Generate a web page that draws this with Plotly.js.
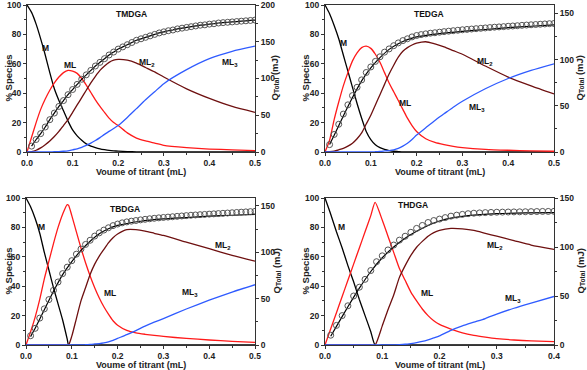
<!DOCTYPE html>
<html>
<head>
<meta charset="utf-8">
<script src="https://cdn.plot.ly/plotly-3.0.1.min.js"></script>
<style>
  html, body { margin: 0; padding: 0; background: #ffffff; }
  #grafico { width: 587px; height: 370px; }
</style>
</head>
<body>
<div id="grafico"></div>
<script>
// Especiação e calor total (Q) para quatro ligantes DGA

// ---- TMDGA ----
const tmdgaVol = [0,0.01,0.02,0.03,0.04,0.05,0.06,0.07,0.08,0.09,0.1,0.11,0.12,0.13,0.14,0.15,0.16,0.17,0.18,0.19,0.2,0.22,0.24,0.26,0.28,0.3,0.35,0.4,0.45,0.5];
const tmdgaM   = [100,95,87,77,66,54,43,35,28,21,15,11,8,5.5,4,3,2.2,1.6,1.1,0.8,0.6,0.3,0.1,0,0,0,0,0,0,0];
const tmdgaML  = [0,10,20,29,36,42,47,51,54,55.5,55,53.5,50,45.5,40.5,35.5,31,27,23,20,18,13,9.5,7.5,6,4.5,3,2,1.5,1];
const tmdgaML2 = [0,0.3,1.2,2.8,5,7.5,10.5,14,18,22,27,32,37,42,47,51.5,55.5,58.5,61,62.5,63,62.5,60.5,57.5,54.5,51,43,36.5,31,27];
const tmdgaML3 = [0,0,0,0,0,0.1,0.2,0.3,0.5,0.8,1.5,2.2,3.2,4.5,6,7.8,9.8,12,14,16,18,23.5,29.5,35.5,41,46.5,56,63.5,68.5,72];

// ---- TEDGA ----
const tedgaVol = [0,0.01,0.02,0.03,0.04,0.05,0.06,0.07,0.08,0.09,0.1,0.11,0.12,0.13,0.14,0.15,0.16,0.17,0.18,0.19,0.2,0.22,0.24,0.26,0.28,0.3,0.35,0.4,0.45,0.5];
const tedgaM   = [100,94,86,77,66,55,44,33,23,14,8.5,5,3,1.8,1,0.5,0.3,0.1,0,0,0,0,0,0,0,0,0,0,0,0];
const tedgaML  = [0,8,22,34,45,54,62,67.5,71,72,70.5,66.5,61,54,47,41,35,29,23,18,14,9,6.5,5,3.8,3,1.8,1.2,0.8,0.5];
const tedgaML2 = [0,0.2,0.6,1.5,2.5,4,6,9,13,19,25,32,39,46,53,59,64.5,68.5,71,72.8,74,75,73.5,71.5,69,66.5,58.5,51,45,39.5];
const tedgaML3 = [0,0,0,0,0,0,0,0,0,0,0,0.2,0.4,0.7,1,1.5,2.5,4,6,8.5,11.5,16.5,21.5,26,30.5,34.5,43,50,55.5,60];

// ---- TBDGA ----
const tbdgaVol = [0,0.01,0.02,0.03,0.04,0.05,0.06,0.07,0.08,0.09,0.093,0.1,0.11,0.12,0.13,0.14,0.15,0.16,0.17,0.18,0.19,0.2,0.22,0.24,0.26,0.28,0.3,0.35,0.4,0.45,0.5];
const tbdgaM   = [100,94,86,76,63,51,39,28,17,4,0,0,0,0,0,0,0,0,0,0,0,0,0,0,0,0,0,0,0,0,0];
const tbdgaML  = [0,9,19,31,45,57,69,80,89,95.5,95,88,77,66,56,47,39,32,26,21,16.5,13.5,10,8.3,7.3,6.5,5.8,4.5,3.4,2.5,1.8];
const tbdgaML2 = [0,0,0,0,0,0,0,0,0,0,0,6,18,30,39,48,55,60.5,65,69.5,73,75.5,78.5,78.5,77.5,76,74.5,70,65.5,61,57];
const tbdgaML3 = [0,0,0,0,0,0,0,0,0,0,0,0,0,0,0.2,0.4,0.7,1,1.5,2.2,3.2,4.5,7,9.8,12.8,15.5,18,24.5,30.5,36,41];

// ---- THDGA ----
const thdgaVol = [0,0.01,0.02,0.03,0.04,0.05,0.06,0.07,0.08,0.0875,0.1,0.11,0.12,0.13,0.14,0.15,0.16,0.17,0.18,0.19,0.2,0.22,0.24,0.26,0.28,0.3,0.33,0.36,0.4];
const thdgaM   = [100,89,77,66,54,43,31,20,9,0,0,0,0,0,0,0,0,0,0,0,0,0,0,0,0,0,0,0,0];
const thdgaML  = [0,11,22,33,44,55,66,77,88,97,85,74,63,52,44,36,30,24.5,20,16.5,14,10.8,8.3,6.6,5.4,4.4,3.4,2.8,2.3];
const thdgaML2 = [0,0,0,0,0,0,0,0,0,0,13,24,34,46,54,61,66.5,70.5,74,76.5,78,79.3,79,78,76,74,71,68,65];
const thdgaML3 = [0,0,0,0,0,0,0,0,0,0,0,0,0,0.2,0.5,1,1.6,2.4,3.5,4.8,6.2,10,13,15.5,18,21,25,28.5,33];

// ---- Q total (círculos) ----
const qVol50 = [0.01,0.02,0.03,0.04,0.05,0.06,0.07,0.08,0.09,0.1,0.11,0.12,0.13,0.14,0.15,0.16,0.17,0.18,0.19,0.2,0.21,0.22,0.23,0.24,0.25,0.26,0.27,0.28,0.29,0.3,0.31,0.32,0.33,0.34,0.35,0.36,0.37,0.38,0.39,0.4,0.41,0.42,0.43,0.44,0.45,0.46,0.47,0.48,0.49,0.5];
const qVol40 = [0.01,0.02,0.03,0.04,0.05,0.06,0.07,0.08,0.09,0.1,0.11,0.12,0.13,0.14,0.15,0.16,0.17,0.18,0.19,0.2,0.21,0.22,0.23,0.24,0.25,0.26,0.27,0.28,0.29,0.3,0.31,0.32,0.33,0.34,0.35,0.36,0.37,0.38,0.39,0.4];
const tmdgaQ = [8,17,25,34,44,53,62,70,78,85,92,99,105,111,117,122,127,132,136,140,143,146,149,152,154,156,158,160,162,163.5,165,166,167.5,168.5,169.5,170.5,171.5,172.5,173,174,174.5,175.5,176,176.5,177,177.5,178,178.5,179,179.5];
const tedgaQ = [8,19,30,41,51,61,70,78,86,92,98,103,108,111.5,115,118,120.5,122.5,124.5,126,127,127.8,128.5,129,129.6,130.2,130.7,131.2,131.7,132.2,132.6,133,133.4,133.8,134.2,134.6,135,135.3,135.6,136,136.3,136.6,137,137.3,137.6,137.9,138.2,138.5,138.8,139];
const tbdgaQ = [10,18,29,39,49,59,68,77,84,91,98,103.5,108.5,113,117.5,121,124,126.5,128.8,130.5,131.8,132.8,133.6,134.3,135,135.6,136.2,136.7,137.2,137.6,138,138.4,138.8,139.2,139.6,140,140.3,140.6,140.9,141.2,141.5,141.8,142.1,142.4,142.7,143,143.3,143.6,143.9,144.2];
const thdgaQ = [10,20,30,40,50,59,67,76,85,91,97,102,107,111,115,119,122,125,127,128.5,130,131.5,132.5,133.3,134,134.5,134.8,135.1,135.3,135.5,135.6,135.7,135.8,135.9,136,136.1,136.2,136.3,136.3,136.4];

// ---- Q total (ajuste, linha preta) ----
const fitVol = [0.01,0.02,0.04,0.06,0.08,0.1,0.12,0.14,0.16,0.18,0.2,0.25,0.3,0.35,0.4,0.45,0.5];
const tedgaFit = [8,18,39,59,77,91,102,111,117,121.5,124.5,128,130.5,132.5,134.5,136,137.5];
const tbdgaFit = [9,18,38,58,76,90,102,112,120,125.5,129,133.5,136,137.5,139,140,141];
const thdgaFitVol = [0.01,0.02,0.04,0.06,0.08,0.1,0.12,0.14,0.16,0.18,0.2,0.22,0.25,0.3,0.35,0.4];
const thdgaFit = [9,19,39,58,75,89,100,109,116,122,126.5,129.5,132,134,134.8,135];

const cores = { M: '#000000', ML: '#ff1a1a', ML2: '#6e1010', ML3: '#2f5bff' };
const fonte = 'Liberation Sans, Arial, sans-serif';
const W = 587, H = 370;

const paineis = [
    { nome: 'TMDGA', vol: tmdgaVol, M: tmdgaM, ML: tmdgaML, ML2: tmdgaML2, ML3: tmdgaML3,
      qVol: qVol50, q: tmdgaQ, fitVol: qVol50, fit: tmdgaQ,
      box: [27, 255, 5, 152], xmax: 0.5, qmax: 200, qdtick: 50,
      rotulos: [['TMDGA', 0.23, 94], ['M', 0.04, 70.5], ['ML', 0.095, 59], ['ML<sub>2</sub>', 0.263, 61], ['ML<sub>3</sub>', 0.445, 61]],
      esq: 8, dir: 275, base: 172 },
    { nome: 'TEDGA', vol: tedgaVol, M: tedgaM, ML: tedgaML, ML2: tedgaML2, ML3: tedgaML3,
      qVol: qVol50, q: tedgaQ, fitVol: fitVol, fit: tedgaFit,
      box: [325, 554, 5, 152], xmax: 0.5, qmax: 159, qdtick: 50,
      rotulos: [['TEDGA', 0.226, 94], ['M', 0.04, 74], ['ML', 0.175, 33.5], ['ML<sub>2</sub>', 0.35, 61.5], ['ML<sub>3</sub>', 0.332, 30.4]],
      esq: 305, dir: 580, base: 172 },
    { nome: 'TBDGA', vol: tbdgaVol, M: tbdgaM, ML: tbdgaML, ML2: tbdgaML2, ML3: tbdgaML3,
      qVol: qVol50, q: tbdgaQ, fitVol: fitVol, fit: tbdgaFit,
      box: [26, 255, 198, 345], xmax: 0.5, qmax: 158.6, qdtick: 50,
      rotulos: [['TBDGA', 0.216, 92.8], ['M', 0.034, 80.3], ['ML', 0.183, 35.5], ['ML<sub>2</sub>', 0.43, 67.4], ['ML<sub>3</sub>', 0.358, 35.7]],
      esq: 8, dir: 276, base: 365 },
    { nome: 'THDGA', vol: thdgaVol, M: thdgaM, ML: thdgaML, ML2: thdgaML2, ML3: thdgaML3,
      qVol: qVol40, q: thdgaQ, fitVol: thdgaFitVol, fit: thdgaFit,
      box: [325, 554, 198, 345], xmax: 0.4, qmax: 150, qdtick: 50,
      rotulos: [['THDGA', 0.154, 95], ['M', 0.029, 80], ['ML', 0.178, 35.2], ['ML<sub>2</sub>', 0.297, 67.7], ['ML<sub>3</sub>', 0.329, 31.8]],
      esq: 305, dir: 580, base: 365 }
];

const data = [];
const layout = {
    width: W,
    height: H,
    margin: { l: 0, r: 0, t: 0, b: 0 },
    paper_bgcolor: '#ffffff',
    plot_bgcolor: 'rgba(0,0,0,0)',
    showlegend: false,
    font: { family: fonte, color: '#222222' },
    annotations: []
};

function eixoBase() {
    return {
        showgrid: false,
        zeroline: false,
        showline: true,
        linecolor: '#333333',
        linewidth: 1,
        ticks: 'outside',
        ticklen: 3,
        tickwidth: 1,
        tickcolor: '#333333',
        tickfont: { family: fonte, size: 8.5, weight: 'bold', color: '#222222' },
        ticklabeloverflow: 'allow',
        fixedrange: true
    };
}

function tituloFonte(tam) {
    return { family: fonte, size: tam || 9.5, weight: 'bold', color: '#222222' };
}

paineis.forEach(function(p, i) {
    const n = i + 1;
    const xs = n === 1 ? '' : String(n);
    const yl = i === 0 ? '' : String(2 * i + 1);
    const yr = String(2 * i + 2);
    const xref = 'x' + xs, ylRef = 'y' + yl, yrRef = 'y' + yr;

    const x0 = p.box[0] / W, x1 = p.box[1] / W;
    const y0 = 1 - p.box[3] / H, y1 = 1 - p.box[2] / H;

    // curvas de espécies
    [['M', cores.M], ['ML', cores.ML], ['ML2', cores.ML2], ['ML3', cores.ML3]].forEach(function(s) {
        data.push({
            x: p.vol, y: p[s[0]], xaxis: xref, yaxis: ylRef,
            type: 'scatter', mode: 'lines', name: s[0] + ' ' + p.nome,
            line: { color: s[1], width: 1.3, shape: 'spline', smoothing: 0.6 }
        });
    });

    // ajuste de Q total
    data.push({
        x: p.fitVol, y: p.fit, xaxis: xref, yaxis: yrRef,
        type: 'scatter', mode: 'lines', name: 'ajuste ' + p.nome,
        line: { color: '#000000', width: 1.2, shape: 'spline', smoothing: 0.6 }
    });

    // pontos experimentais
    data.push({
        x: p.qVol, y: p.q, xaxis: xref, yaxis: yrRef,
        type: 'scatter', mode: 'markers', name: 'Q ' + p.nome,
        marker: { symbol: 'circle-open', size: 6, color: '#555555', line: { width: 1, color: '#555555' } }
    });

    const xa = eixoBase();
    Object.assign(xa, {
        domain: [x0, x1], anchor: ylRef, range: [0, p.xmax], autorange: false,
        dtick: 0.1, tickformat: '.1f', mirror: true,
        minor: { ticks: 'outside', ticklen: 2, dtick: 0.05, tickcolor: '#333333' }
    });
    layout['xaxis' + xs] = xa;

    const ya = eixoBase();
    Object.assign(ya, {
        domain: [y0, y1], anchor: xref, range: [0, 100], autorange: false, dtick: 20,
        minor: { ticks: 'outside', ticklen: 2, dtick: 10, tickcolor: '#333333' }
    });
    layout['yaxis' + yl] = ya;

    const yb = eixoBase();
    Object.assign(yb, {
        domain: [y0, y1], anchor: xref, overlaying: ylRef, side: 'right',
        range: [0, p.qmax], autorange: false, dtick: p.qdtick,
        minor: { ticks: 'outside', ticklen: 2, dtick: p.qdtick / 2, tickcolor: '#333333' }
    });
    layout['yaxis' + yr] = yb;

    // rótulos das curvas
    p.rotulos.forEach(function(r) {
        layout.annotations.push({
            x: r[1], y: r[2], xref: xref, yref: ylRef, text: r[0], showarrow: false,
            xanchor: 'center', yanchor: 'middle',
            font: { family: fonte, size: 8.5, weight: 'bold', color: '#111111' }
        });
    });

    // títulos dos eixos
    layout.annotations.push({
        x: (x0 + x1) / 2, y: 1 - p.base / H, xref: 'paper', yref: 'paper', text: 'Voume of titrant (mL)',
        showarrow: false, xanchor: 'center', yanchor: 'middle', font: tituloFonte(9)
    });
    layout.annotations.push({
        x: p.esq / W, y: (y0 + y1) / 2, xref: 'paper', yref: 'paper', text: '% Species',
        textangle: -90, showarrow: false, xanchor: 'center', yanchor: 'middle', font: tituloFonte()
    });
    layout.annotations.push({
        x: p.dir / W, y: (y0 + y1) / 2, xref: 'paper', yref: 'paper', text: 'Q<sub>Total</sub> (mJ)',
        textangle: -90, showarrow: false, xanchor: 'center', yanchor: 'middle', font: tituloFonte()
    });
});

Plotly.newPlot('grafico', data, layout, { staticPlot: true, displayModeBar: false });
</script>
</body>
</html>
